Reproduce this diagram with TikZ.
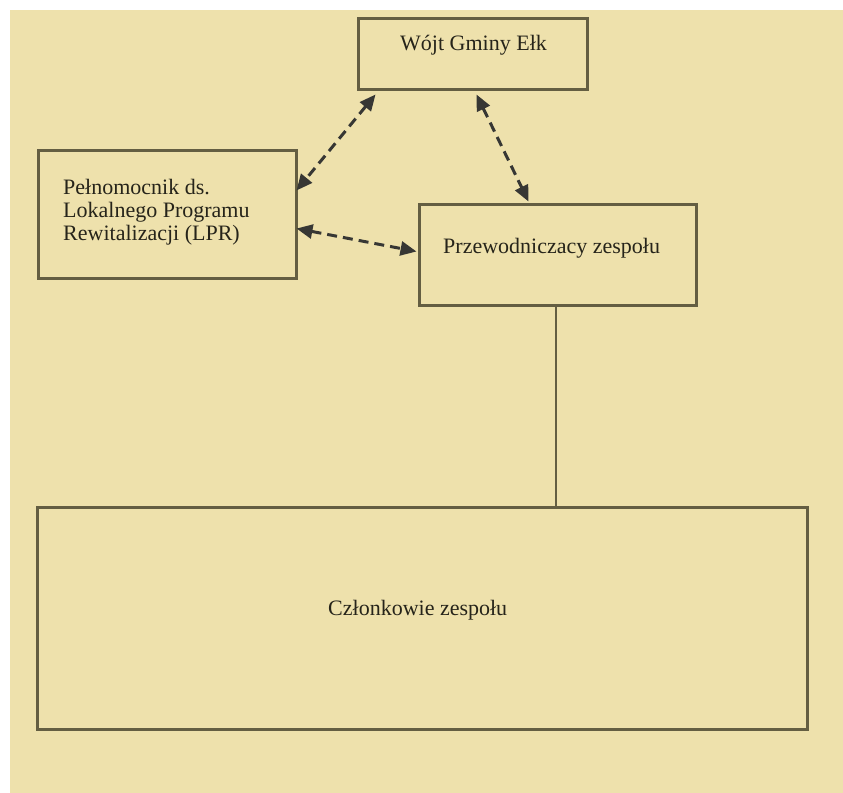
\documentclass[tikz,border=0pt]{standalone}
\usepackage{fontspec}
\setmainfont{Liberation Serif}
\usetikzlibrary{arrows.meta,calc}
\definecolor{bgbeige}{RGB}{238,225,172}
\definecolor{boxline}{RGB}{100,94,66}
\definecolor{arrowgray}{RGB}{55,55,52}
\definecolor{txtcol}{RGB}{38,36,26}
\begin{document}
\begin{tikzpicture}[x=1bp,y=-1bp,
  box/.style={draw=boxline, line width=3bp, rectangle, inner sep=0pt},
  lbl/.style={inner sep=0pt, text=txtcol, font=\fontsize{22bp}{23bp}\selectfont},
  dasharrow/.style={draw=arrowgray, line width=3bp, dash pattern=on 10bp off 6bp,
    {Triangle[length=16bp,width=14bp]}-{Triangle[length=16bp,width=14bp]}},
  link/.style={draw=boxline, line width=2.6bp}]
\fill[white] (0,0) rectangle (843,793);
\fill[bgbeige] (10,10) rectangle (843,793);
\useasboundingbox (0,0) rectangle (843,793);

\node[box, minimum width=229bp, minimum height=70bp] (wojt) at (472.5,54) {};
\node[box, minimum width=257bp, minimum height=128bp] (pelen) at (167.5,214) {};
\node[box, minimum width=277bp, minimum height=101bp] (przew) at (557.5,254.5) {};
\node[box, minimum width=769bp, minimum height=222bp] (czl) at (422.5,618) {};

\node[lbl, anchor=base west] (wojtt) at (400,51) {Wójt Gminy Ełk};
\node[lbl, anchor=west, align=left] (pelent) at (63,212) {Pełnomocnik ds.\\Lokalnego Programu\\Rewitalizacji (LPR)};
\node[lbl, anchor=base west] (przewt) at (443,253) {Przewodniczacy zespołu};
\node[lbl, anchor=base west] (czlt) at (328,615) {Członkowie zespołu};

\coordinate (w1) at ($(wojt.south west)+(19,4)$);
\coordinate (w2) at ($(wojt.south west)+(120,4)$);
\coordinate (p1) at ($(pelen.north east)+(-1,42)$);
\coordinate (p2) at ($(pelen.north east)+(-1,80)$);
\coordinate (z1) at ($(przew.north west)+(111,-1)$);
\coordinate (z2) at ($(przew.north west)+(-1,49)$);
\coordinate (zb) at ($(przew.south)+(-1.5,0)$);

\draw[dasharrow] (w1) -- (p1);
\draw[dasharrow] (w2) -- (z1);
\draw[dasharrow] (p2) -- (z2);
\draw[link] (zb) -- (zb |- czl.north);
\end{tikzpicture}
\end{document}
